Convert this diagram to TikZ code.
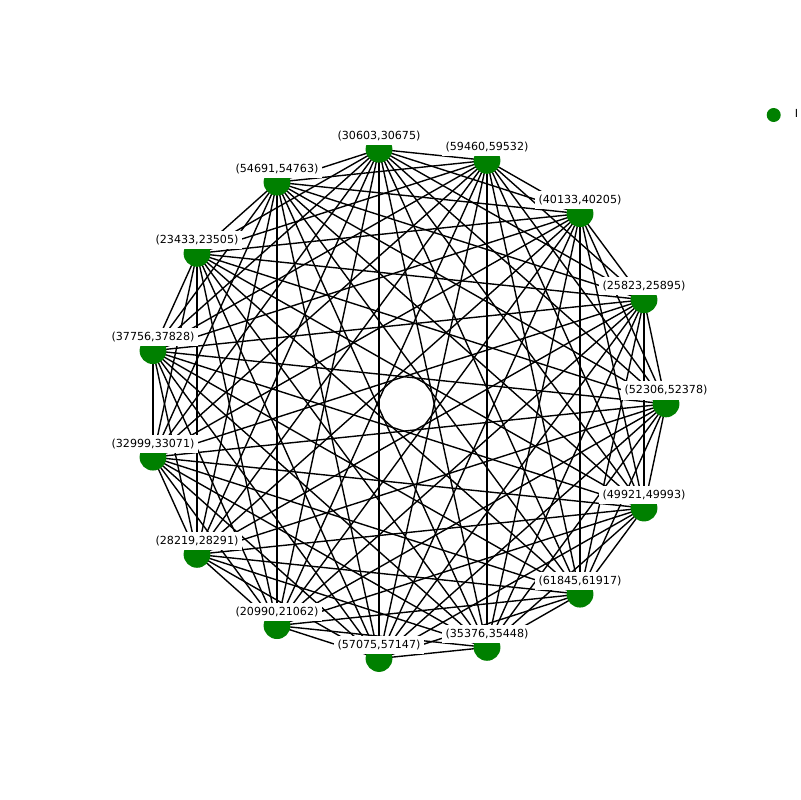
\documentclass[tikz,border=0pt]{standalone}
\usepackage{fontspec}
\setmainfont{DejaVu Sans}
\definecolor{mplgreen}{HTML}{008000}
\begin{document}
\begin{tikzpicture}[x=0.01in,y=-0.01in,
  edge/.style={line width=1bp, draw=black},
  marker/.style={circle, fill=mplgreen, draw=none, inner sep=0pt, minimum size=0.268in},
  lbl/.style={fill=white, inner xsep=2.4bp, inner ysep=0pt, minimum height=0.18in, font=\fontsize{8bp}{9.6bp}\selectfont},
  legmark/.style={circle, fill=mplgreen, draw=none, inner sep=0pt, minimum size=0.14in}]
\useasboundingbox (0,0) rectangle (800,800);
\foreach \i in {0,...,14} {
  \coordinate (n\i) at ({round(406.6+259.4*cos(24*\i))},{403.9-256*sin(24*\i)});
}
\foreach \i in {0,...,13} {
  \pgfmathtruncatemacro\nx{\i+1}
  \foreach \j in {\nx,...,14} {
    \draw[edge] (n\i) -- (n\j);
  }
}
\foreach \i in {0,...,14} {
  \node[marker] (m\i) at (n\i) {};
}
\foreach \lab [count=\i from 0] in {{(52306,52378)},{(25823,25895)},{(40133,40205)},{(59460,59532)},{(30603,30675)},{(54691,54763)},{(23433,23505)},{(37756,37828)},{(32999,33071)},{(28219,28291)},{(20990,21062)},{(57075,57147)},{(35376,35448)},{(61845,61917)},{(49921,49993)}} {
  \node[lbl] (l\i) at ([yshift=0.134in]n\i) {\lab};
}
\node[legmark] (legm) at (773.7,115) {};
\node[anchor=base west, inner sep=0pt, font=\fontsize{8bp}{9.6bp}\selectfont] (legt) at (794.6,117.5) {I};
\end{tikzpicture}
\end{document}
